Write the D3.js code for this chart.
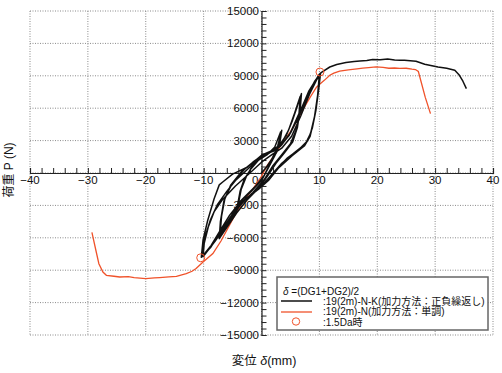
<!DOCTYPE html>
<html>
<head>
<meta charset="utf-8">
<script src="https://d3js.org/d3.v7.min.js"></script>
<style>
  body { margin: 0; background: #fff; }
  text { font-family: "Liberation Sans", Arial, "Noto Sans CJK JP", sans-serif; fill: #111; }
</style>
</head>
<body>
<div id="chart"></div>
<script>
// tick values
var xTicks = [-40, -30, -20, -10, 0, 10, 20, 30, 40];
var yTicks = [-15000, -12000, -9000, -6000, -3000, 0, 3000, 6000, 9000, 12000, 15000];

// 19(2m)-N-K cyclic loading (disp mm, load N)
var cyclicCurve = [
  [0,0],[0.8,500],[1.8,1300],[2.8,2500],[3.5,3950],
  [3.2,2900],[2.6,1900],[1.5,900],[0.5,-200],[-1,-1200],[-2.5,-2000],[-4.1,-2850],
  [-3.7,-1700],[-3,-600],[-1.8,400],[-0.5,1200],[1,1700],[2.3,2400],[3.3,3800],
  [3,2700],[2.3,1600],[1.2,500],[0,-700],[-1.8,-1700],[-3,-2300],[-4,-2850],
  [-3.5,-1500],[-2.6,-300],[-1.5,700],[0,1500],[1.5,1900],[3,2500],[4.3,3500],[5.3,4800],[6.2,6200],[6.9,7350],
  [6.7,6000],[6.2,4200],[5.4,2900],[4,1900],[2.5,900],[1,-300],[-0.5,-1400],[-2.5,-2500],[-4.3,-3700],[-5.8,-4900],[-7.3,-6080],
  [-7.1,-4500],[-6.5,-2600],[-5.3,-1100],[-3.5,100],[-1.5,1000],[0.2,1650],[2,2100],[3.5,2800],[4.7,4000],[5.7,5500],[6.7,7100],
  [6.5,5600],[6,4000],[5,2700],[3.5,1700],[2,700],[0.5,-600],[-1.5,-1800],[-3.5,-2800],[-5.2,-4200],[-7.2,-5900],
  [-6.9,-4000],[-6.3,-2300],[-5,-900],[-3,300],[-1,1200],[0.5,1700],[2,2000],[3.5,2600],[5,3700],[6.5,5300],[8,7200],[9.2,8500],[10.2,9250],
  [9.9,7800],[9.4,5800],[8.8,4200],[8,3000],[6.5,2200],[4.5,1400],[2.5,300],[0.8,-800],[-1,-1700],[-2.6,-2300],[-4.3,-3200],[-6,-4600],[-7.5,-5800],[-8.8,-6900],[-10.4,-7800],
  [-10.1,-6200],[-9.3,-4400],[-8.2,-2400],[-7.3,-1100],[-6.7,-830],[-5,-100],[-2.4,560],[0,1640],[1.5,2000],[3.1,2400],[4.8,3490],[6.3,5300],[7.8,7000],[9,8300],[10.1,9200],
  [9.8,7500],[9.2,5300],[8.5,3700],[7.6,2700],[5.7,1900],[3.5,900],[1.5,-300],[0,-1200],[-2,-2100],[-4,-2900],[-5.5,-3900],[-7,-5200],[-8.7,-6700],[-10.2,-7700],
  [-9.8,-6000],[-8.8,-4300],[-7.6,-2900],[-6,-1700],[-4.5,-700],[-2.5,300],[-0.5,1300],[1.5,1900],[3.3,2500],[5,3700],[6.6,5600],[8.2,7600],[10,9150],
  [9.7,7200],[9.1,5000],[8.4,3400],[7.4,2500],[5.3,1600],[3,500],[1.2,-700],[-0.5,-1500],[-2.5,-2300],[-4.5,-3500],[-6.2,-4900],[-8,-6300],[-10.1,-7750],
  [-9.9,-6500],[-9.2,-5000],[-8.2,-3600],[-6.8,-2500],[-4.5,-1200],[-2,0],[0,1000],[1.8,1700],[3.5,2300],[5.2,3400],[6.8,5300],[8.3,7300],[9.5,8600],[10.3,9300],
  [11.8,9815],[13,10050],[14.6,10222],[16,10320],[17,10370],[18.2,10420],[19.2,10500],[20.5,10480],[21.8,10556],[23,10470],[23.9,10450],[24.7,10435],
  [26.7,10343],[28.2,10065],[30.5,9815],[32,9700],[33.4,9510],[34.2,9046],[34.8,8500],[35.4,7815]
];

// 19(2m)-N monotonic loading
var monoCurve = [
  [-29.3,-5500],[-28.6,-7200],[-28.1,-8400],[-27.4,-9170],[-26.8,-9470],[-25.5,-9560],[-24.5,-9630],[-23,-9600],
  [-22,-9680],[-20,-9780],[-18.5,-9720],[-17.6,-9690],[-16,-9620],[-14.7,-9570],[-13,-9320],[-12,-9100],[-11.3,-8850],
  [-10.1,-8240],[-8.4,-7460],[-7,-6300],[-5.5,-4800],[-4.2,-3500],[-3,-2500],[-1.5,-1500],[0,-300],[1,700],[2.3,1700],
  [3.5,2700],[5.1,3900],[6.3,5000],[7.4,6100],[8.5,7100],[9.5,7950],[10.3,8330],[10.9,8600],[11.8,9050],[12.5,9250],
  [13.5,9440],[15,9550],[16.5,9650],[17.5,9720],[18.5,9760],[19.8,9820],[21,9780],[22,9700],[23,9720],[23.9,9680],
  [25,9700],[26,9620],[26.6,9580],[27.1,9400],[27.6,8400],[28.3,7000],[29.2,5500]
];

// 1.5Da points
var daPoints = [[10.1, 9350], [-10.5, -7850]];

var legendTitle = "=(DG1+DG2)/2";
var legendLabels = [":19(2m)-N-K(加力方法：正負繰返し)", ":19(2m)-N(加力方法：単調)", ":1.5Da時"];

var red = "#f0522a";

// set the dimensions and margins of the graph
var margin = {top: 11, right: 9, bottom: 38, left: 30},
    width = 502 - margin.left - margin.right,
    height = 373 - margin.top - margin.bottom;

var svg = d3.select("#chart")
  .append("svg")
    .attr("width", 502)
    .attr("height", 373)
  .append("g")
    .attr("transform", "translate(" + margin.left + "," + margin.top + ")");

// scales
var x = d3.scaleLinear().domain([-40, 40]).range([0, width]);
var y = d3.scaleLinear().domain([-15000, 15000]).range([height, 0]);

// dotted grid
svg.append("g").selectAll("line").data(xTicks).enter().append("line")
  .attr("x1", d => x(d)).attr("x2", d => x(d))
  .attr("y1", 0).attr("y2", height)
  .attr("stroke", "#8a8a8a").attr("stroke-width", 1).attr("stroke-dasharray", "1,1.5");
svg.append("g").selectAll("line").data(yTicks).enter().append("line")
  .attr("x1", 0).attr("x2", width)
  .attr("y1", d => y(d)).attr("y2", d => y(d))
  .attr("stroke", "#8a8a8a").attr("stroke-width", 1).attr("stroke-dasharray", "1,1.5");

// x axis through zero, minor ticks upward
var xAxis = svg.append("g")
  .attr("transform", "translate(0," + y(0) + ")")
  .call(d3.axisTop(x).tickValues(d3.range(-40, 41, 2)).tickSize(5).tickFormat(""));
// y axis through zero, minor ticks to the right
var yAxis = svg.append("g")
  .attr("transform", "translate(" + x(0) + ",0)")
  .call(d3.axisRight(y).tickValues(d3.range(-15000, 15001, 600)).tickSize(5).tickFormat(""));
svg.selectAll(".domain").attr("stroke", "#222").attr("stroke-width", 1.2);
svg.selectAll(".tick line").attr("stroke", "#222").attr("stroke-width", 1);

// tick labels
svg.append("g").selectAll("text").data(xTicks.filter(d => d !== 0)).enter().append("text")
  .attr("x", d => x(d)).attr("y", y(0) + 10.5)
  .attr("text-anchor", "middle")
  .style("font-size", "11.5px")
  .text(d => d3.format("d")(d));
svg.append("text")
  .attr("x", x(0) - 3).attr("y", y(0) + 10.5)
  .attr("text-anchor", "end")
  .style("font-size", "11.5px")
  .text("0");
svg.append("g").selectAll("text").data(yTicks.filter(d => d !== 0)).enter().append("text")
  .attr("x", x(0) - 2.5).attr("y", d => y(d) + 4)
  .attr("text-anchor", "end")
  .style("font-size", "11.5px")
  .text(d => d3.format("d")(d));

// curves
var line = d3.line().x(d => x(d[0])).y(d => y(d[1]));

svg.append("path").datum(monoCurve)
  .attr("d", line).attr("fill", "none")
  .attr("stroke", red).attr("stroke-width", 1.3);

svg.append("path").datum(cyclicCurve)
  .attr("d", line).attr("fill", "none")
  .attr("stroke", "#111").attr("stroke-width", 1.5).attr("stroke-linejoin", "round");

svg.selectAll(".da").data(daPoints).enter().append("circle")
  .attr("cx", d => x(d[0])).attr("cy", d => y(d[1])).attr("r", 4)
  .attr("fill", "none").attr("stroke", red).attr("stroke-width", 1);

// axis titles
svg.append("text")
  .attr("transform", "translate(" + (13 - margin.left) + "," + (170 - margin.top) + ") rotate(-90)")
  .attr("text-anchor", "middle")
  .style("font-size", "12px")
  .text("荷重 P (N)");

var xt = svg.append("text")
  .attr("x", 264 - margin.left).attr("y", 365 - margin.top)
  .attr("text-anchor", "middle")
  .style("font-size", "12.5px");
xt.append("tspan").text("変位 ");
xt.append("tspan").style("font-style", "italic").text("δ");
xt.append("tspan").text("(mm)");

// legend
var lg = svg.append("g").attr("transform", "translate(" + (277 - margin.left) + "," + (277 - margin.top) + ")");
lg.append("rect").attr("width", 211).attr("height", 53)
  .attr("fill", "#fff").attr("stroke", "#666").attr("stroke-width", 1.5);

var lt = lg.append("text").attr("x", 6).attr("y", 17.5).style("font-size", "10px");
lt.append("tspan").style("font-style", "italic").text("δ ");
lt.append("tspan").text(legendTitle);

lg.append("line").attr("x1", 4).attr("x2", 35).attr("y1", 24).attr("y2", 24)
  .attr("stroke", "#111").attr("stroke-width", 1.5);
lg.append("line").attr("x1", 4).attr("x2", 35).attr("y1", 35).attr("y2", 35)
  .attr("stroke", red).attr("stroke-width", 1.3);
lg.append("circle").attr("cx", 19).attr("cy", 44.5).attr("r", 3.7)
  .attr("fill", "none").attr("stroke", red).attr("stroke-width", 1);

lg.selectAll(".lab").data(legendLabels).enter().append("text")
  .attr("x", 46).attr("y", (d, i) => 27.5 + i * 10.7)
  .style("font-size", "10px")
  .text(d => d);
</script>
</body>
</html>
